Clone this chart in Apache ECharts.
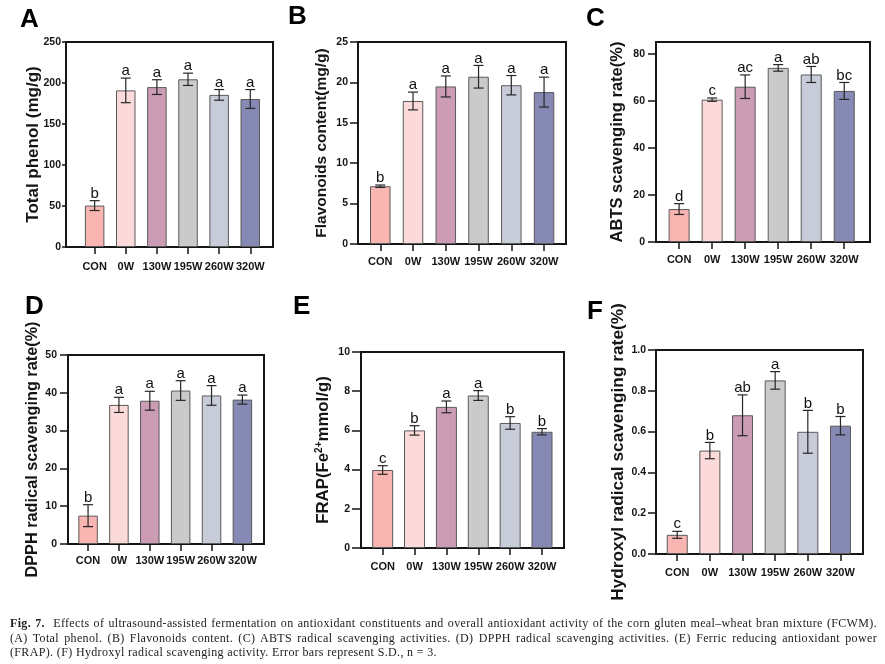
<!DOCTYPE html>
<html>
<head>
<meta charset="utf-8">
<script src="https://cdn.jsdelivr.net/npm/echarts@6/dist/echarts.min.js"></script>
<style>
html, body { margin: 0; padding: 0; background: #fff; }
#chart { width: 885px; height: 664px; }
#caption {
    position: absolute; left: 10px; top: 616px; width: 867px;
    font-family: "Liberation Serif", "DejaVu Serif", serif;
    font-size: 12px; letter-spacing: 0.35px; line-height: 14.5px; color: #222;
}
#caption div { text-align: justify; text-align-last: justify; }
#caption div.last { text-align-last: left; }
</style>
</head>
<body>
<div id="chart"></div>
<div id="caption">
    <div><b>Fig. 7.</b>&nbsp; Effects of ultrasound-assisted fermentation on antioxidant constituents and overall antioxidant activity of the corn gluten meal–wheat bran mixture (FCWM).</div>
    <div>(A) Total phenol. (B) Flavonoids content. (C) ABTS radical scavenging activities. (D) DPPH radical scavenging activities. (E) Ferric reducing antioxidant power</div>
    <div class="last">(FRAP). (F) Hydroxyl radical scavenging activity. Error bars represent S.D., n = 3.</div>
</div>
<script>
// groups
var categories = ['CON', '0W', '130W', '195W', '260W', '320W'];

// (A) total phenol
var phenolMean = [50.5, 191, 195, 204.5, 185.5, 180.5];
var phenolSd = [6, 15, 9, 7.5, 6.5, 11.5];
var phenolSig = ['b', 'a', 'a', 'a', 'a', 'a'];

// (B) flavonoids
var flavMean = [7.15, 17.7, 19.5, 20.7, 19.65, 18.8];
var flavSd = [0.15, 1.1, 1.3, 1.4, 1.2, 1.85];
var flavSig = ['b', 'a', 'a', 'a', 'a', 'a'];

// (C) ABTS
var abtsMean = [14, 60.5, 66, 74, 71.2, 64.2];
var abtsSd = [2.3, 0.7, 5, 1.4, 3.4, 3.6];
var abtsSig = ['d', 'c', 'ac', 'a', 'ab', 'bc'];

// (D) DPPH
var dpphMean = [7.5, 36.8, 37.9, 40.6, 39.3, 38.2];
var dpphSd = [2.9, 2, 2.5, 2.6, 2.6, 1.2];
var dpphSig = ['b', 'a', 'a', 'a', 'a', 'a'];

// (E) FRAP
var frapMean = [3.98, 6.0, 7.2, 7.78, 6.38, 5.93];
var frapSd = [0.22, 0.24, 0.3, 0.25, 0.32, 0.16];
var frapSig = ['c', 'b', 'a', 'a', 'b', 'b'];

// (F) hydroxyl radical
var ohMean = [0.094, 0.507, 0.68, 0.851, 0.599, 0.629];
var ohSd = [0.017, 0.04, 0.1, 0.043, 0.105, 0.045];
var ohSig = ['c', 'b', 'ab', 'a', 'b', 'b'];

// y axis ranges / tick steps
var yMax = [250, 25, 85, 50, 10, 1.0];
var yStep = [50, 5, 20, 10, 2, 0.2];

var barColors = ['#F9B5B2', '#FDDADA', '#CC9CB5', '#CACACA', '#C8CCD9', '#8589B3'];

var SANS = '"Liberation Sans", Arial, sans-serif';
var INK = '#151515';

// box = frame [left, top, width, height]; pad = frame extent in category units
var panels = [
    { tag: 'A', mean: phenolMean, sd: phenolSd, sig: phenolSig, dec: 0,
      name: 'Total phenol (mg/g)', nameSize: 17, nameGap: 24, yTick: 4, yMargin: 5,
      box: [66, 42, 207, 205], pad: [-0.92, 5.73], barW: 19.5, xMargin: 14, tagPos: [20, 7] },
    { tag: 'B', mean: flavMean, sd: flavSd, sig: flavSig, dec: 0,
      name: 'Flavonoids content(mg/g)', nameSize: 15.5, nameGap: 28, yTick: 8, yMargin: 10,
      box: [358, 42, 208, 202], pad: [-0.68, 5.67], barW: 20.5, xMargin: 12, tagPos: [288, 4] },
    { tag: 'C', mean: abtsMean, sd: abtsSd, sig: abtsSig, dec: 0,
      name: 'ABTS scavenging rate(%)', nameSize: 16.5, nameGap: 30, yTick: 8, yMargin: 11,
      box: [656, 42, 214, 200], pad: [-0.70, 5.78], barW: 21, xMargin: 12, tagPos: [586, 6] },
    { tag: 'D', mean: dpphMean, sd: dpphSd, sig: dpphSig, dec: 0,
      name: 'DPPH radical scavenging rate(%)', nameSize: 16.3, nameGap: 27, yTick: 8, yMargin: 11,
      box: [68, 355, 196, 189], pad: [-0.65, 5.70], barW: 19.5, xMargin: 11, tagPos: [25, 294] },
    { tag: 'E', mean: frapMean, sd: frapSd, sig: frapSig, dec: 0,
      name: 'FRAP(Fe{sup|2+}mmol/g)', nameSize: 16.8, nameGap: 28, yTick: 9, yMargin: 11,
      box: [361, 352, 203, 196], pad: [-0.68, 5.69], barW: 21, xMargin: 13, tagPos: [293, 294] },
    { tag: 'F', mean: ohMean, sd: ohSd, sig: ohSig, dec: 1,
      name: 'Hydroxyl radical scavenging rate(%)', nameSize: 17.3, nameGap: 29, yTick: 8, yMargin: 10,
      box: [656, 350, 207, 204], pad: [-0.65, 5.69], barW: 21, xMargin: 13, tagPos: [587, 299] }
];

function errorBars(sig) {
    return function (params, api) {
        var x = api.value(0), m = api.value(1), s = api.value(2);
        var top = api.coord([x, m + s]);
        var bot = api.coord([x, m - s]);
        var cw = 5;
        var ls = { stroke: '#262626', lineWidth: 1.2 };
        return {
            type: 'group',
            children: [
                { type: 'line', shape: { x1: top[0], y1: top[1], x2: bot[0], y2: bot[1] }, style: ls },
                { type: 'line', shape: { x1: top[0] - cw, y1: top[1], x2: top[0] + cw, y2: top[1] }, style: ls },
                { type: 'line', shape: { x1: bot[0] - cw, y1: bot[1], x2: bot[0] + cw, y2: bot[1] }, style: ls },
                { type: 'text', x: top[0], y: top[1] + 0.5,
                  style: { text: sig[params.dataIndex], font: '15px ' + SANS, fill: '#111',
                           align: 'center', verticalAlign: 'bottom' } }
            ]
        };
    };
}

var grid = [], xAxis = [], yAxis = [], series = [], graphic = [];

panels.forEach(function (p, k) {
    var f = 2 * k, b = 2 * k + 1;
    var unit = p.box[2] / (p.pad[1] - p.pad[0]);
    // frame grid: box + value axis
    grid.push({
        left: p.box[0], top: p.box[1], width: p.box[2], height: p.box[3],
        show: true, borderColor: INK, borderWidth: 2, backgroundColor: 'transparent'
    });
    // bar grid: the six category bands inside the frame
    grid.push({
        left: p.box[0] + (-p.pad[0] - 0.5) * unit, top: p.box[1],
        width: 6 * unit, height: p.box[3]
    });
    xAxis.push({ type: 'value', gridIndex: f, show: false, min: 0, max: 1 });
    xAxis.push({
        type: 'category', gridIndex: b, data: categories, boundaryGap: true,
        axisLine: { show: true, lineStyle: { color: INK, width: 2 } },
        axisTick: { show: true, alignWithLabel: true, length: 7, lineStyle: { color: INK, width: 1.5 } },
        axisLabel: {
            interval: 0, margin: p.xMargin,
            fontFamily: SANS, fontSize: 11, fontWeight: 'bold', color: INK
        }
    });
    yAxis.push({
        type: 'value', gridIndex: f, min: 0, max: yMax[k], interval: yStep[k],
        axisLine: { show: true, lineStyle: { color: INK, width: 2 } },
        splitLine: { show: false },
        axisTick: { show: true, length: p.yTick, lineStyle: { color: INK, width: 1.5 } },
        axisLabel: {
            margin: p.yMargin, showMaxLabel: yMax[k] % yStep[k] < 1e-9 || yStep[k] - yMax[k] % yStep[k] < 1e-9,
            formatter: function (v) { return v.toFixed(p.dec); },
            fontFamily: SANS, fontSize: 10.5, fontWeight: 'bold', color: INK
        },
        name: p.name, nameLocation: 'middle', nameGap: p.nameGap, nameMoveOverlap: false,
        nameTextStyle: {
            fontFamily: SANS, fontSize: p.nameSize, fontWeight: 'bold', color: INK,
            rich: { sup: { fontFamily: SANS, fontSize: 10, fontWeight: 'bold', color: INK, padding: [0, 0, 9, 0] } }
        }
    });
    yAxis.push({ type: 'value', gridIndex: b, show: false, min: 0, max: yMax[k] });
    series.push({
        type: 'bar', xAxisIndex: b, yAxisIndex: b, barWidth: p.barW,
        silent: true,
        itemStyle: { borderColor: '#5a5a5a', borderWidth: 1 },
        data: p.mean.map(function (v, i) {
            return { value: v, itemStyle: { color: barColors[i] } };
        })
    });
    series.push({
        type: 'custom', xAxisIndex: b, yAxisIndex: b, z: 5, silent: true,
        renderItem: errorBars(p.sig),
        data: p.mean.map(function (v, i) { return [i, v, p.sd[i]]; })
    });
    graphic.push({
        type: 'text', left: p.tagPos[0], top: p.tagPos[1],
        style: { text: p.tag, font: 'bold 26px ' + SANS, fill: '#000' }
    });
});

var chart = echarts.init(document.getElementById('chart'));
chart.setOption({
    animation: false,
    grid: grid,
    xAxis: xAxis,
    yAxis: yAxis,
    series: series,
    graphic: graphic
});
</script>
</body>
</html>
